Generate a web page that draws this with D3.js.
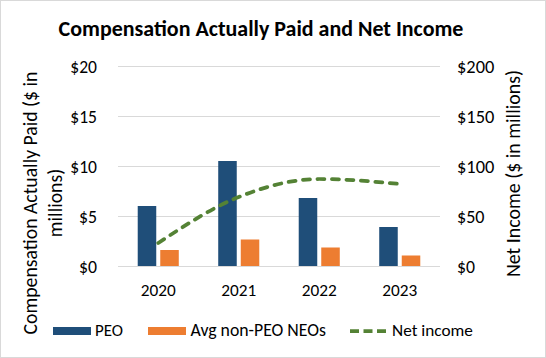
<!DOCTYPE html>
<html><head><meta charset="utf-8">
<script src="https://cdn.jsdelivr.net/npm/d3@7"></script>
<style>body{margin:0;background:#fff}svg{display:block}text{font-family:Carlito,Lato,"Open Sans",sans-serif;fill:#000}</style>
</head><body><svg id="c" width="546" height="358"></svg>
<script>
const years = ["2020", "2021", "2022", "2023"];
const peoValues = [6.0, 10.5, 6.8, 3.9];
const neoValues = [1.6, 2.65, 1.85, 1.05];
const netIncome = [23, 69, 87, 82];
const leftTicks = [0, 5, 10, 15, 20];
const rightTicks = [0, 50, 100, 150, 200];
const seriesNames = ["PEO", "Avg non-PEO NEOs", "Net income"];
const colors = {PEO: "#1f4e79", NEO: "#ed7d31", NI: "#548235", grid: "#d9d9d9"};

const svg = d3.select("#c");
svg.append("rect").attr("x", 0.5).attr("y", 0.5).attr("width", 545).attr("height", 357)
  .attr("fill", "#fff").attr("stroke", "#d9d9d9").attr("stroke-width", 1);

function fit(sel, target) {
  sel.each(function () {
    const base = parseFloat(this.getAttribute("font-size")) || 16;
    const w = this.getComputedTextLength();
    if (w > 0) this.setAttribute("font-size", (base * target / w).toFixed(2));
  });
  return sel;
}

const L = 118, R = 440, T = 66, B = 266;
const x0 = d3.scaleBand().domain(years).range([L, R]).paddingInner(0.49).paddingOuter(0.245);
const x1 = d3.scaleBand().domain(["PEO", "NEO"]).range([0, x0.bandwidth()]).paddingInner(0.178);
const yL = d3.scaleLinear().domain([0, 20]).range([B, T]);
const yR = d3.scaleLinear().domain([0, 200]).range([B, T]);

// gridlines
svg.append("g").selectAll("line").data(leftTicks).join("line")
  .attr("x1", L).attr("x2", R).attr("y1", d => yL(d) + 0.5).attr("y2", d => yL(d) + 0.5)
  .attr("stroke", colors.grid).attr("stroke-width", 1);

// bars
const groups = svg.append("g").selectAll("g").data(years).join("g")
  .attr("transform", d => `translate(${x0(d)},0)`);
groups.append("rect").attr("x", x1("PEO")).attr("width", x1.bandwidth())
  .attr("y", (d, i) => yL(peoValues[i])).attr("height", (d, i) => B - yL(peoValues[i]))
  .attr("fill", colors.PEO);
groups.append("rect").attr("x", x1("NEO")).attr("width", x1.bandwidth())
  .attr("y", (d, i) => yL(neoValues[i])).attr("height", (d, i) => B - yL(neoValues[i]))
  .attr("fill", colors.NEO);

// net income line
const line = d3.line().x((d, i) => x0(years[i]) + x0.bandwidth() / 2).y(d => yR(d))
  .curve(d3.curveMonotoneX);
svg.append("path").datum(netIncome).attr("d", line).attr("fill", "none")
  .attr("stroke", colors.NI).attr("stroke-width", 3.75).attr("stroke-linecap", "round")
  .attr("stroke-dasharray", "7,7.5");

// left axis
const axL = svg.append("g").attr("transform", `translate(97,0)`)
  .call(d3.axisLeft(yL).tickValues(leftTicks).tickFormat(d => "$" + d).tickSize(0).tickPadding(0));
axL.select(".domain").remove();
axL.selectAll("text").attr("font-size", 16).attr("font-family", null).attr("dy", "0.35em");
fit(axL.selectAll("text").filter(d => d >= 10), 26.7);
fit(axL.selectAll("text").filter(d => d < 10), 18);

// right axis
const axR = svg.append("g").attr("transform", `translate(457,0)`)
  .call(d3.axisRight(yR).tickValues(rightTicks).tickFormat(d => "$" + d).tickSize(0).tickPadding(0));
axR.select(".domain").remove();
axR.selectAll("text").attr("font-size", 16).attr("font-family", null).attr("dy", "0.35em");
fit(axR.selectAll("text").filter(d => d >= 100), 37.3);
fit(axR.selectAll("text").filter(d => d > 0 && d < 100), 27.5);
fit(axR.selectAll("text").filter(d => d === 0), 18);

// x axis
const axB = svg.append("g").attr("transform", `translate(0,${B})`)
  .call(d3.axisBottom(x0).tickSize(0).tickPadding(0));
axB.select(".domain").remove();
axB.selectAll("text").attr("font-size", 16).attr("font-family", null).attr("dy", null).attr("y", 30);
fit(axB.selectAll("text"), 35);

// title
fit(svg.append("text").attr("x", 261).attr("y", 36).attr("text-anchor", "middle")
  .attr("font-weight", "bold").attr("font-size", 20)
  .text("Compensation Actually Paid and Net Income"), 405);

// left axis title
const lt = svg.append("text").attr("transform", "translate(0,203) rotate(-90)").attr("text-anchor", "middle");
lt.append("tspan").attr("x", 0).attr("y", 37).attr("font-size", 16).text("Compensation Actually Paid ($ in");
lt.append("tspan").attr("x", 0).attr("y", 62).attr("font-size", 16).text("millions)");
fit(lt.select("tspan"), 263);
lt.selectAll("tspan").filter((d, i) => i === 1).attr("font-size", lt.select("tspan").attr("font-size"));

// right axis title
fit(svg.append("text").attr("transform", "translate(520,173.5) rotate(-90)").attr("text-anchor", "middle")
  .attr("font-size", 16).text("Net Income ($ in millions)"), 207);

// legend
const leg = svg.append("g");
leg.append("rect").attr("x", 53).attr("y", 327).attr("width", 38).attr("height", 8).attr("fill", colors.PEO);
leg.append("rect").attr("x", 148).attr("y", 327).attr("width", 38).attr("height", 8).attr("fill", colors.NEO);
leg.append("line").attr("x1", 350).attr("x2", 386).attr("y1", 331).attr("y2", 331)
  .attr("stroke", colors.NI).attr("stroke-width", 3.75).attr("stroke-dasharray", "9,4.5");
fit(leg.append("text").attr("x", 95).attr("y", 336).attr("font-size", 16).text(seriesNames[0]), 28);
fit(leg.append("text").attr("x", 190.5).attr("y", 336).attr("font-size", 16).text(seriesNames[1]), 135.5);
fit(leg.append("text").attr("x", 392).attr("y", 336).attr("font-size", 16).text(seriesNames[2]), 81);
</script></body></html>
